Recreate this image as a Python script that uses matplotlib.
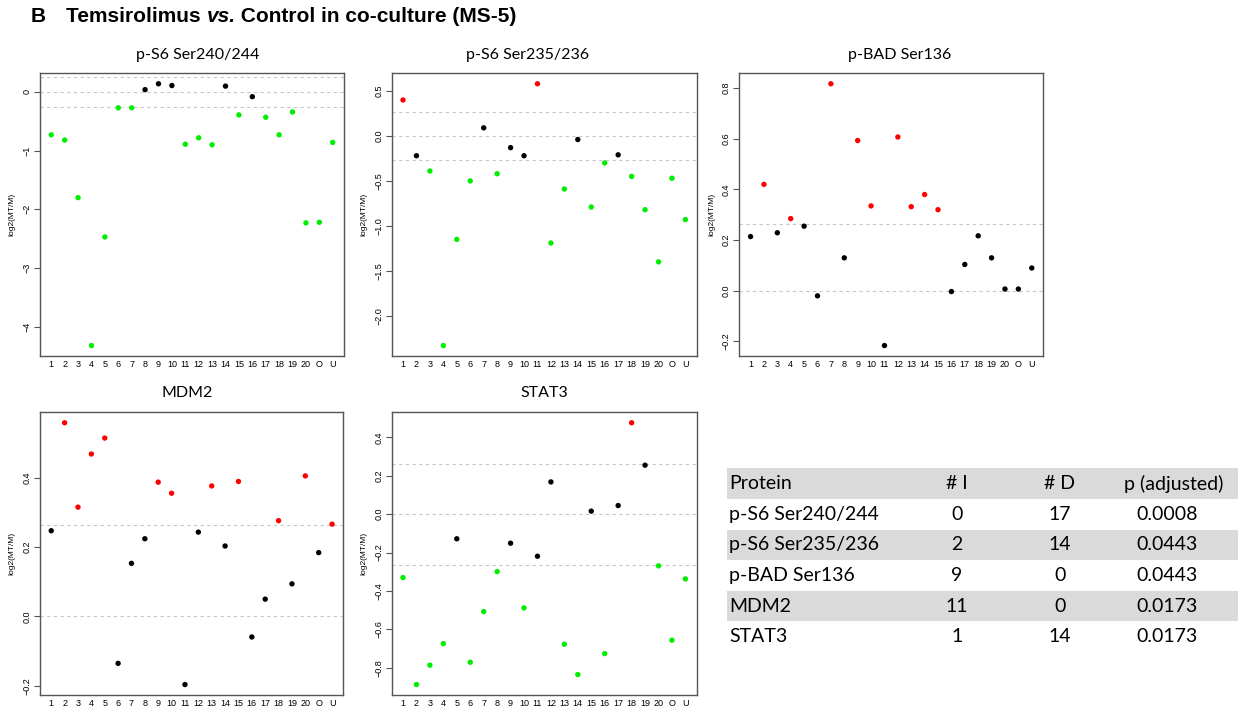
import matplotlib
matplotlib.use('Agg')
import matplotlib.pyplot as plt
from matplotlib.ticker import MultipleLocator, FuncFormatter

# sample sites on the x axis
sites = [str(i) for i in range(1, 21)] + ['O', 'U']

# log2(MT/M) per site, and call per site (I = increased, D = decreased, N = no change)
s6_240 = [-0.73, -0.82, -1.80, -4.32, -2.47, -0.27, -0.27, 0.04, 0.14, 0.11, -0.89,
          -0.78, -0.90, 0.10, -0.39, -0.08, -0.43, -0.73, -0.34, -2.23, -2.22, -0.86]
s6_240_call = list("DDDDDDDNNNDDDNDNDDDDDD")

s6_235 = [0.40, -0.22, -0.39, -2.33, -1.15, -0.50, 0.09, -0.42, -0.13, -0.22, 0.58,
          -1.19, -0.59, -0.04, -0.79, -0.30, -0.21, -0.45, -0.82, -1.40, -0.47, -0.93]
s6_235_call = list("INDDDDNDNNIDDNDDNDDDDD")

bad136 = [0.214, 0.42, 0.229, 0.285, 0.255, -0.02, 0.817, 0.13, 0.593, 0.335, -0.216,
          0.607, 0.332, 0.38, 0.32, -0.003, 0.104, 0.217, 0.13, 0.007, 0.007, 0.09]
bad136_call = list("NININNINIINIIIINNNNNNN")

mdm2 = [0.247, 0.558, 0.315, 0.468, 0.514, -0.135, 0.153, 0.224, 0.387, 0.355, -0.196,
        0.243, 0.376, 0.203, 0.389, -0.059, 0.050, 0.276, 0.094, 0.405, 0.184, 0.266]
mdm2_call = list("NIIIINNNIINNININNININI")

stat3 = [-0.330, -0.887, -0.786, -0.674, -0.128, -0.771, -0.507, -0.299, -0.151, -0.488,
         -0.219, 0.168, -0.677, -0.835, 0.016, -0.726, 0.045, 0.476, 0.255, -0.269,
         -0.656, -0.337]
stat3_call = list("DDDDNDDDNDNNDDNDNINDDD")

proteins = ['p-S6 Ser240/244', 'p-S6 Ser235/236', 'p-BAD Ser136', 'MDM2', 'STAT3']
p_adj = ['0.0008', '0.0443', '0.0443', '0.0173', '0.0173']

call_col = {'I': '#ff0000', 'D': '#00ee00', 'N': 'black'}
cutoff = 0.263  # log2(1.2)

W, H = 1243, 708
fig = plt.figure(figsize=(W / 100, H / 100), dpi=100)


def px_axes(l, t, r, b):
    return fig.add_axes([l / W, 1 - b / H, (r - l) / W, (b - t) / H])


def minus(v, pos, fmt):
    return fmt.format(v).replace('-', '\u2212')


def panel(box, title, title_x, title_y, vals, calls, step, fmt):
    ax = px_axes(*box)
    xs = range(1, len(sites) + 1)
    for h in (-cutoff, 0, cutoff):
        ax.axhline(h, color='#c8c8c8', lw=0.8, ls=(0, (3, 3)), zorder=1)
    ax.scatter(xs, vals, c=[call_col[c] for c in calls], s=15, lw=0, zorder=3)
    ax.margins(x=0.04, y=0.04)
    ax.set_ylim(min(vals) - 0.04 * (max(vals) - min(vals)),
                max(vals) + 0.04 * (max(vals) - min(vals)))
    ax.set_xticks(list(xs))
    ax.set_xticklabels(sites, fontsize=6.5, family='Liberation Sans')
    ax.tick_params(axis='x', length=0, pad=3)
    ax.yaxis.set_major_locator(MultipleLocator(step))
    ax.yaxis.set_major_formatter(FuncFormatter(lambda v, p: minus(v, p, fmt)))
    ax.tick_params(axis='y', length=4, width=0.8, color='#555555', pad=2, labelsize=6.5)
    for lab in ax.get_yticklabels():
        lab.set_rotation(90)
        lab.set_va('center')
        lab.set_family('Liberation Sans')
    ax.set_ylabel('log2(MT/M)', fontsize=6, family='Liberation Sans', labelpad=5)
    for s in ax.spines.values():
        s.set_color('#555555')
        s.set_linewidth(1)
    fig.text(title_x / W, 1 - title_y / H, title, ha='center', va='center',
             fontsize=11.5, family='Lato')
    return ax


panel((40, 73.3, 344, 356), proteins[0], 198, 55, s6_240, s6_240_call, 1, '{:.0f}')
panel((391.7, 73.3, 696.7, 356), proteins[1], 528, 55, s6_235, s6_235_call, 0.5, '{:.1f}')
panel((739.3, 73.3, 1043, 356), proteins[2], 900, 55, bad136, bad136_call, 0.2, '{:.1f}')
panel((40, 412.3, 343.3, 695), proteins[3], 187, 393, mdm2, mdm2_call, 0.2, '{:.1f}')
panel((391.7, 412.3, 696.7, 695), proteins[4], 544, 393, stat3, stat3_call, 0.2, '{:.1f}')

# summary table
calls = [s6_240_call, s6_235_call, bad136_call, mdm2_call, stat3_call]
tx0, tx1, ty0, ty1 = 726.7, 1238.3, 468.3, 652
tab = px_axes(tx0, ty0, tx1, ty1)
tab.set_xlim(tx0, tx1)
tab.set_ylim(6, 0)
tab.axis('off')
for r in (0, 2, 4):
    tab.axhspan(r, r + 1, color='#dadada', lw=0)
tfont = dict(fontsize=14, family='Lato', va='center')
tab.text(729, 0.5, 'Protein', ha='left', **tfont)
tab.text(957, 0.5, '# I', ha='center', **tfont)
tab.text(1060, 0.5, '# D', ha='center', **tfont)
tab.text(1174, 0.5, 'p (adjusted)', ha='center', **tfont)
for i, name in enumerate(proteins):
    y = i + 1.5
    tab.text(729, y, name, ha='left', **tfont)
    tab.text(957, y, str(calls[i].count('I')), ha='center', **tfont)
    tab.text(1060, y, str(calls[i].count('D')), ha='center', **tfont)
    tab.text(1167, y, p_adj[i], ha='center', **tfont)

# heading: "B", then title with italic "vs."
hfont = dict(fontsize=15, family='Liberation Sans', weight='bold', va='center')
fig.text(31 / W, 1 - 17 / H, 'B', **hfont)
r = fig.canvas.get_renderer()
x = 66 / W
for piece, style in (('Temsirolimus ', 'normal'), ('vs.', 'italic'),
                     (' Control in co-culture (MS-5)', 'normal')):
    t = fig.text(x, 1 - 17 / H, piece, style=style, **hfont)
    bb = t.get_window_extent(renderer=r)
    x = bb.x1 / W

fig.savefig('out.png', dpi=100)
